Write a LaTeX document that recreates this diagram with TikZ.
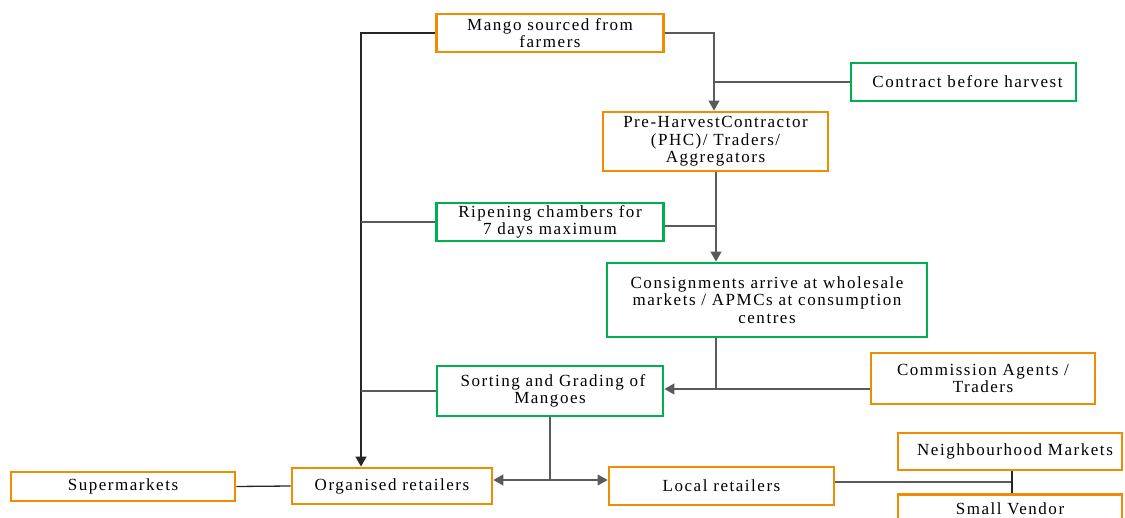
\documentclass[tikz,border=0pt]{standalone}
\usepackage{fontspec}
\setmainfont{Liberation Serif}[LetterSpace=9]
\usetikzlibrary{arrows.meta}
\definecolor{borange}{RGB}{240,140,0}
\definecolor{bgreen}{RGB}{0,176,80}
\definecolor{lgray}{RGB}{90,90,90}
\begin{document}
\begin{tikzpicture}[x=1pt,y=-1pt,
  box/.style={draw, line width=2.8pt, inner sep=0pt, align=center,
    font=\fontsize{17}{17.5}\selectfont, text=black},
  obox/.style={box, draw=borange},
  gbox/.style={box, draw=bgreen},
  ln/.style={draw=lgray, line width=1.3pt},
  dk/.style={draw=black!85, line width=1.3pt},
  arr/.style={-{Triangle[length=10pt,width=11pt]}},
]
\useasboundingbox (0,0) rectangle (1125,518);
\node[obox, minimum width=227pt, minimum height=38pt] (mango) at (550,33) {Mango sourced from\\farmers};
\node[gbox, minimum width=225pt, minimum height=38pt] (con) at (963.5,82) {\hspace*{8pt}Contract before harvest};
\node[obox, minimum width=225pt, minimum height=59pt] (phc) at (715.5,141.5) {Pre-HarvestContractor\\(PHC)/ Traders/\\Aggregators};
\node[gbox, minimum width=227pt, minimum height=38pt] (rip) at (550,222) {Ripening chambers for\\7 days maximum};
\node[gbox, minimum width=320pt, minimum height=74pt] (cons) at (767,300) {Consignments arrive at wholesale\\markets / APMCs at consumption\\centres};
\node[obox, minimum width=224pt, minimum height=51pt] (com) at (983,378.5) {Commission Agents /\\Traders};
\node[gbox, minimum width=226pt, minimum height=50pt] (sort) at (550,391) {\hspace*{6pt}Sorting and Grading of\\Mangoes};
\node[obox, minimum width=224pt, minimum height=37pt] (nb) at (1010,451.5) {\hspace*{10pt}Neighbourhood Markets};
\node[obox, minimum width=224pt, minimum height=28pt, anchor=north] (sv) at (1010,493) {Small Vendor};
\node[obox, minimum width=224pt, minimum height=29pt] (sup) at (123,486.5) {Supermarkets};
\node[obox, minimum width=200pt, minimum height=36pt] (org) at (392,486) {Organised retailers};
\node[obox, minimum width=225pt, minimum height=38pt] (loc) at (721.5,486) {Local retailers};

\coordinate (L) at (361,33);
\coordinate (R1) at (714,33);
\coordinate (J) at (716,389);
\coordinate (K) at (550,480);
\coordinate (M) at (1012,482);

\draw[dk, arr] (mango.west) -- (L) -- (L |- org.north);
\draw[ln] (rip.west) -- (rip.west -| L);
\draw[ln] (sort.west) -- (sort.west -| L);
\draw[ln, arr] (mango.east) -- (R1) -- (R1 |- phc.north);
\draw[ln] (con.west) -- (con.west -| R1);
\draw[ln, arr] (phc.south -| J) -- (J |- cons.north);
\draw[ln] ([yshift=-4pt]rip.east) -- ([yshift=-4pt]rip.east -| J);
\draw[ln] (cons.south -| J) -- (J);
\draw[ln, arr] (J) -- (J -| sort.east);
\draw[ln] (com.west |- J) -- (J);
\draw[ln] (sort.south) -- (K);
\draw[ln, arr] (K) -- (K -| org.east);
\draw[ln, arr] (K) -- (K -| loc.west);
\draw[ln] (loc.east |- M) -- (M);
\draw[dk] (M |- nb.south) -- (M |- sv.north);
\draw[dk] (sup.east) -- (org.west);
\end{tikzpicture}
\end{document}
